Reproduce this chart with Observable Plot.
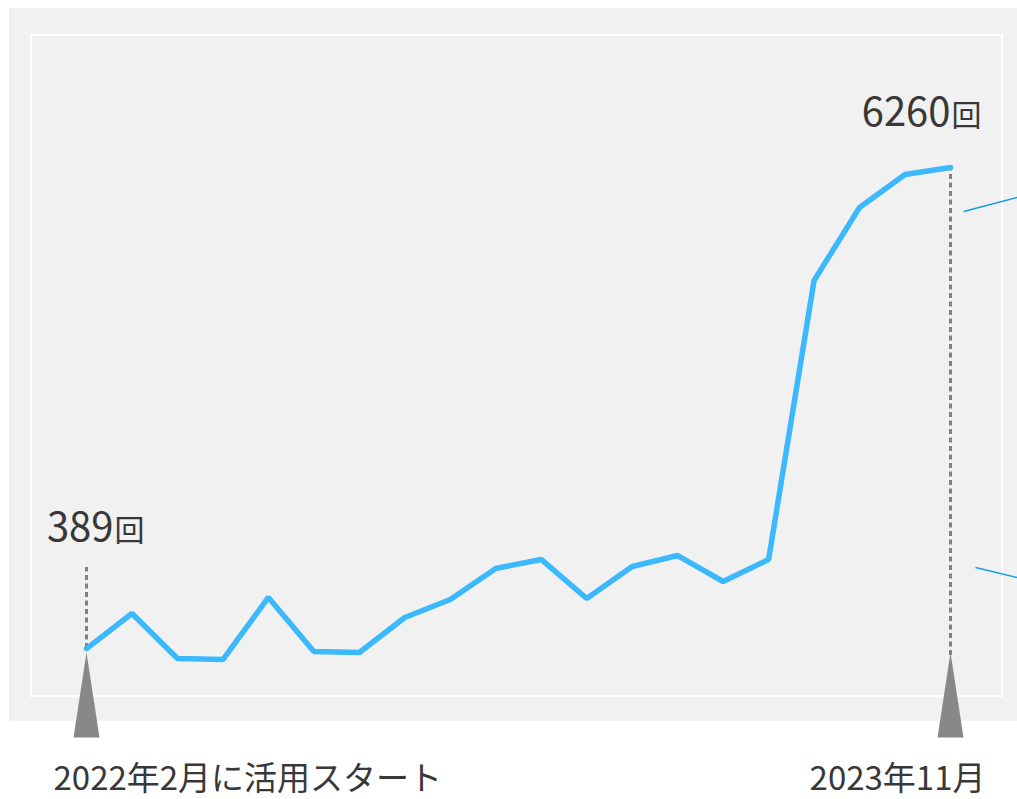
<!DOCTYPE html>
<html>
<head>
<meta charset="utf-8">
<script src="https://cdn.jsdelivr.net/npm/d3@7"></script>
<script src="https://cdn.jsdelivr.net/npm/@observablehq/plot@0.6"></script>
<style>
  html, body { margin: 0; padding: 0; background: #ffffff; }
  #wrap { position: relative; width: 1017px; height: 799px; overflow: hidden; }
  #panel { position: absolute; left: 9px; top: 8px; width: 1008px; height: 713px; background: #f1f1f1; }
  #inner { position: absolute; left: 30px; top: 34px; width: 969px; height: 659px; border: 2px solid #ffffff; }
  #chart { position: absolute; left: 0; top: 0; }
  #chart svg { display: block; }
</style>
</head>
<body>
<div id="wrap">
  <div id="panel"></div>
  <div id="inner"></div>
  <div id="chart"></div>
</div>
<script>
// ---- data ----
const pointIndex = [0, 1, 2, 3, 4, 5, 6, 7, 8, 9, 10, 11, 12, 13, 14, 15, 16, 17, 18, 19];
const counts = [389, 818, 268, 256, 1013, 354, 342, 769, 988, 1367, 1477, 1001, 1391, 1525, 1208, 1477, 4881, 5772, 6175, 6260];

const markerIndex = [0, 19];
const markerValues = [389, 6260];
const markerLabels = ["2022年2月に活用スタート", "2023年11月"];
const markerUnit = "回";
const guideFrom = [389, 305];
const guideTo = [1379, 6321];

// leader lines leaving the right edge of the chart (cut off in the reference)
const calloutX1 = [19.29, 19.55];
const calloutY1 = [5723, 1379];
const calloutX2 = [20.47, 20.47];
const calloutY2 = [5894, 1257];

// ---- tables built from the arrays ----
const series = pointIndex.map((i, k) => ({i, count: counts[k]}));
const markers = markerIndex.map((i, k) => ({
  i, value: markerValues[k], label: markerLabels[k], from: guideFrom[k], to: guideTo[k]
}));
const callouts = calloutX1.map((x1, k) => ({x1, y1: calloutY1[k], x2: calloutX2[k], y2: calloutY2[k]}));

const spikeSymbol = {
  draw(context) {
    context.moveTo(0, -28);
    context.lineTo(13, 57);
    context.lineTo(-13, 57);
    context.closePath();
  }
};

const font = "'Noto Sans CJK JP', 'Noto Sans', sans-serif";
const textColor = "#383838";

const chart = Plot.plot({
  width: 1017,
  height: 799,
  marginLeft: 86,
  marginRight: 67,
  marginTop: 167,
  marginBottom: 119,
  x: {domain: [0, 19], axis: null},
  y: {domain: [0, 6260], axis: null},
  style: {background: "transparent", fontFamily: font},
  marks: [
    Plot.ruleX(markers, {x: "i", y1: "from", y2: "to", stroke: "#808080", strokeWidth: 3, strokeDasharray: "5,3.5", shapeRendering: "auto"}),
    Plot.link(callouts, {x1: "x1", y1: "y1", x2: "x2", y2: "y2", stroke: "#1a9be6", strokeWidth: 1.5}),
    Plot.line(series, {x: "i", y: "count", stroke: "#3cb8fc", strokeWidth: 5.5, strokeLinejoin: "miter"}),
    Plot.dot(markers, {x: "i", frameAnchor: "bottom", symbol: spikeSymbol, fill: "#888888", stroke: "none", r: 10}),
    // value labels
    Plot.text([markers[0]], {x: "i", y: "value", text: d => String(d.value), textAnchor: "end", lineAnchor: "bottom", dx: 27, dy: -108, fontSize: 40, fill: textColor}),
    Plot.text([markers[0]], {x: "i", y: "value", text: () => markerUnit, textAnchor: "start", lineAnchor: "bottom", dx: 28, dy: -108, fontSize: 30, fill: textColor}),
    Plot.text([markers[1]], {x: "i", y: "value", text: d => String(d.value), textAnchor: "end", lineAnchor: "bottom", dx: 0, dy: -42, fontSize: 40, fill: textColor}),
    Plot.text([markers[1]], {x: "i", y: "value", text: () => markerUnit, textAnchor: "start", lineAnchor: "bottom", dx: 1, dy: -42, fontSize: 30, fill: textColor}),
    // period labels below the panel
    Plot.text([markers[0]], {x: "i", frameAnchor: "bottom", text: "label", textAnchor: "start", lineAnchor: "bottom", dx: -33, dy: 109, fontSize: 33, fill: textColor}),
    Plot.text([markers[1]], {x: "i", frameAnchor: "bottom", text: "label", textAnchor: "end", lineAnchor: "bottom", dx: 35, dy: 109, fontSize: 33, fill: textColor})
  ]
});

document.getElementById("chart").appendChild(chart);
</script>
</body>
</html>
